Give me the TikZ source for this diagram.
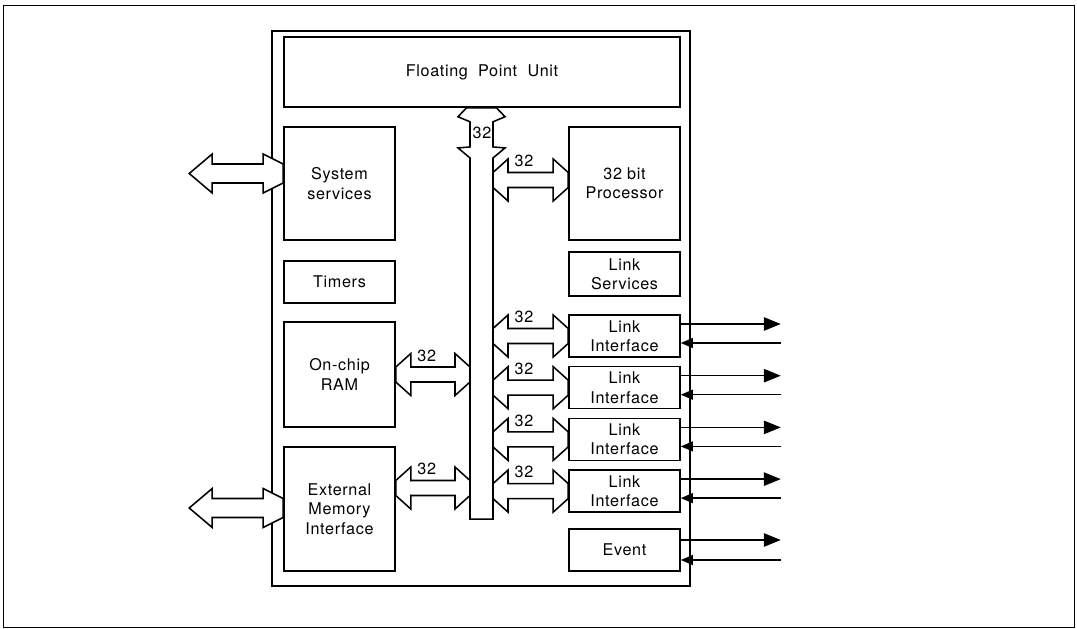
\documentclass[tikz,border=0pt]{standalone}
\usepackage{fontspec}
\setmainfont{TeX Gyre Heros}[LetterSpace=4]
\usetikzlibrary{arrows.meta,calc,positioning}

\tikzset{
  blk/.style={draw, line width=1.1pt, align=center, inner sep=0pt, minimum width=2.775cm},
  fat/.style={draw, fill=white, line width=1.1pt, line join=miter},
  sig/.style={line width=1pt},
}

% wide bus arrow with its width label, #1 left end, #2 right end, #3 label name
\newcommand{\busarrow}[3]{%
  \draw[fat] ($(#1)+(0,-7.5)$) -- ($(#1)+(15,-21)$) -- ($(#1)+(15,-7.5)$)
    -- ($(#2)+(-15,-7.5)$) -- ($(#2)+(-15,-21)$) -- ($(#2)+(0,-7.5)$)
    -- ($(#2)+(0,7.5)$) -- ($(#2)+(-15,21)$) -- ($(#2)+(-15,7.5)$)
    -- ($(#1)+(15,7.5)$) -- ($(#1)+(15,21)$) -- ($(#1)+(0,7.5)$) -- cycle;
  \node (#3) at ($(#1)+(31,-19)$) {32};}

% wide arrow to the outside, #1 free tip, #2 block end
\newcommand{\extarrow}[2]{%
  \draw[fat] (#1) -- ($(#1)+(23,-19.5)$) -- ($(#1)+(23,-9.5)$)
    -- ($(#2)+(-20,-9.5)$) -- ($(#2)+(-20,-19.5)$) -- ($(#2)+(0,-9.5)$)
    -- ($(#2)+(0,9.5)$) -- ($(#2)+(-20,19.5)$) -- ($(#2)+(-20,9.5)$)
    -- ($(#1)+(23,9.5)$) -- ($(#1)+(23,19.5)$) -- cycle;}

\begin{document}
\begin{tikzpicture}[x=0.025cm, y=-0.025cm, font=\fontsize{11.5}{13.8}\selectfont]
    \useasboundingbox (0,0) rectangle (1077,629);

    % 1. Frames
    \draw[line width=0.7pt] (3,5) rectangle (1074,627);
    \draw[line width=1.1pt] (272,31) rectangle (690,586);

    % 2. Blocks
    \node[blk, minimum width=9.9cm, minimum height=1.75cm] (fpu) at (482,72) {Floating~~Point~~Unit};
    \node[blk, minimum height=2.825cm] (sys) at (339.5,183.5) {System\\services};
    \node[blk, minimum height=1.05cm] (tim) at (339.5,282) {Timers};
    \node[blk, minimum height=2.625cm] (ram) at (339.5,374.5) {On-chip\\RAM};
    \node[blk, minimum height=3.1cm] (emi) at (339.5,509) {External\\Memory\\Interface};
    \node[blk, minimum height=2.825cm] (cpu) at (624.5,183.5) {32 bit\\Processor};
    \node[blk, minimum height=1.1cm] (lsv) at (624.5,274) {Link\\Services};
    \foreach \i in {1,...,4}
        \node[blk, minimum height=1.05cm] (li\i) at (624.5,{336+(\i-1)*51.7}) {Link\\Interface};
    \node[blk, minimum height=1.05cm] (evt) at (624.5,550) {Event};

    % 3. Bus with the arrow up to the FPU
    \node[minimum width=0.575cm, minimum height=9.025cm, inner sep=0pt, outer sep=0pt] (bus) at (481.5,338.5) {};
    \coordinate (vt) at (bus.north |- fpu.south);
    \draw[fat] ($(vt)+(-15,0)$) -- ($(vt)+(15,0)$) -- ($(vt)+(23.5,9)$) -- ($(vt)+(11.5,14)$)
        -- ($(bus.north)+(11.5,-11)$) -- ($(bus.north)+(23.5,-10)$) -- (bus.north east)
        -- (bus.south east) -- (bus.south west) -- (bus.north west)
        -- ($(bus.north)+(-23.5,-10)$) -- ($(bus.north)+(-11.5,-11)$)
        -- ($(vt)+(-11.5,14)$) -- ($(vt)+(-23.5,9)$) -- cycle;
    \node (vlab) at (482,133) {32};

    % 4. Bus arrows
    \path (bus.east |- cpu.west) ++(0,-3.5) coordinate (c1);
    \path (cpu.west) ++(0,-3.5) coordinate (c2);
    \busarrow{c1}{c2}{lcpu}
    \coordinate (r2) at (bus.west |- ram.east);
    \busarrow{ram.east}{r2}{lram}
    \path (emi.east) ++(0,-21) coordinate (e1);
    \path (bus.west |- emi.east) ++(0,-21) coordinate (e2);
    \busarrow{e1}{e2}{lemi}
    \foreach \i in {1,...,4}{
        \coordinate (b\i) at (bus.east |- li\i.west);
        \busarrow{b\i}{li\i.west}{lli\i}
    }

    % 5. Arrows to the outside
    \path (sys.west) ++(0,-10) coordinate (s2);
    \path (s2) ++(-94,0) coordinate (s1);
    \extarrow{s1}{s2}
    \path (emi.west) ++(-94,-1) coordinate (m1);
    \path (emi.west) ++(0,-1) coordinate (m2);
    \extarrow{m1}{m2}

    % 6. Link and event signals
    \foreach \i in {1,...,4}{
        \draw[sig, -{Triangle[length=12pt,width=9.5pt]}] ($(li\i.east)+(0,-12)$) -- ++(100,0);
        \draw[sig, {Triangle[length=8.5pt,width=7pt]}-] ($(li\i.east)+(0,7)$) -- ++(100,0);
    }
    \draw[sig, -{Triangle[length=12pt,width=9.5pt]}] ($(evt.east)+(0,-10)$) -- ++(100,0);
    \draw[sig, {Triangle[length=8.5pt,width=7pt]}-] ($(evt.east)+(0,10)$) -- ++(100,0);
\end{tikzpicture}
\end{document}
